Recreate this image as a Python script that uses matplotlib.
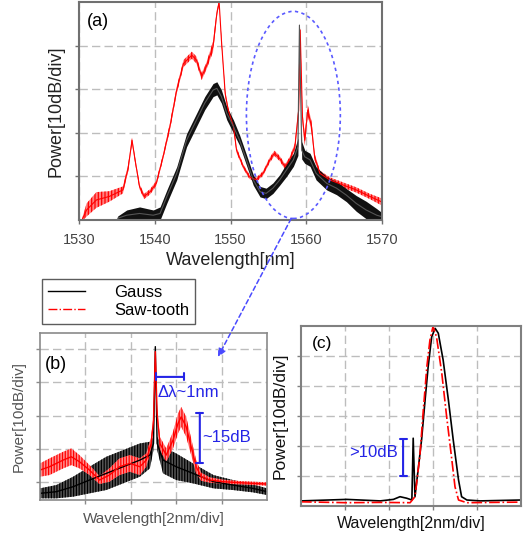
import numpy as np
import matplotlib
matplotlib.use("Agg")
import matplotlib.pyplot as plt
from matplotlib.patches import Ellipse, ConnectionPatch
from matplotlib.lines import Line2D

plt.rcParams['font.family'] = ['Liberation Sans', 'DejaVu Sans']
plt.rcParams['hatch.linewidth'] = 0.9

# ---------------- data ----------------
# panel (a): full spectrum
red_a_wl = [1530.4, 1531.0, 1532.3, 1534.0, 1535.8, 1536.5, 1537.0, 1537.4, 1538.0, 1538.6,
            1539.4, 1540.2, 1541.1, 1542.0, 1542.9, 1543.8, 1544.9, 1545.5, 1546.2, 1546.8,
            1547.7, 1548.2, 1548.5, 1548.8, 1549.3, 1549.7, 1550.4, 1550.8, 1551.7, 1552.5,
            1553.4, 1554.3, 1555.2, 1555.8, 1556.5, 1557.2, 1557.8, 1558.5, 1559.0, 1559.2,
            1559.5, 1559.8, 1560.2, 1560.7, 1561.1, 1561.8, 1563.1, 1564.9, 1566.6, 1568.4,
            1569.9]
red_a_db = [0.0, 2.3, 4.6, 5.4, 6.9, 12.0, 18.3, 13.8, 7.6, 5.4,
            6.5, 8.4, 14.5, 21.4, 29.8, 35.9, 37.8, 36.7, 32.9, 35.2,
            39.8, 47.4, 50.0, 41.3, 29.0, 25.2, 21.4, 16.0, 12.2, 9.9,
            9.2, 10.7, 13.8, 15.3, 14.1, 12.2, 13.8, 16.8, 25.2, 43.6,
            23.7, 18.3, 25.2, 21.4, 14.5, 10.7, 9.2, 8.0, 6.9, 5.4,
            4.2]
red_a_noise = [0.3, 1.5, 1.8, 1.2, 0.8, 0.8, 0.6, 0.6, 0.6, 0.6,
               0.6, 0.6, 0.6, 0.8, 0.8, 0.8, 0.8, 0.8, 0.8, 0.8,
               1.2, 0.8, 0.3, 0.6, 0.6, 0.6, 0.6, 0.6, 0.5, 0.5,
               0.5, 0.5, 0.6, 0.6, 0.6, 0.6, 0.6, 0.8, 1.2, 0.3,
               1.2, 1.2, 1.2, 1.2, 0.8, 0.6, 0.6, 0.6, 0.6, 0.6,
               0.8]
gauss_a_wl = [1535.1, 1536.3, 1538.0, 1539.8, 1540.7, 1541.6, 1542.9, 1544.2, 1545.5, 1546.6,
              1547.7, 1548.2, 1548.8, 1549.5, 1550.4, 1551.2, 1552.1, 1553.0, 1553.9, 1554.7,
              1555.6, 1556.5, 1557.4, 1558.3, 1558.9, 1559.1, 1559.4, 1559.8, 1560.5, 1561.3,
              1562.7, 1564.0, 1565.3, 1566.6, 1567.9, 1569.3, 1569.9]
gauss_a_db = [0.4, 1.1, 1.5, 1.1, 1.5, 5.4, 10.7, 18.3, 22.9, 26.8,
              29.8, 30.2, 28.3, 24.5, 21.4, 18.3, 13.8, 9.2, 6.5, 6.1,
              7.3, 9.2, 11.5, 13.8, 16.8, 44.7, 16.0, 14.5, 13.8, 10.7,
              8.4, 7.3, 5.7, 3.8, 2.3, 1.1, 0.8]
gauss_a_noise = [0.5, 1.2, 1.5, 1.2, 1.5, 1.5, 1.5, 1.5, 1.5, 1.5,
                 1.5, 1.5, 1.5, 1.5, 1.5, 1.2, 1.2, 1.2, 1.2, 1.2,
                 1.2, 1.2, 1.5, 1.5, 2.0, 0.5, 2.0, 1.5, 1.5, 1.5,
                 1.5, 1.5, 1.5, 1.8, 2.0, 1.5, 1.0]
a_xticks = [1530, 1540, 1550, 1560, 1570]

# panel (b): zoom around 1559 nm (x in divisions of 2 nm)
red_b_x = [0.0, 0.21, 0.51, 0.69, 0.87, 1.09, 1.31, 1.53, 1.75, 1.98,
           2.2, 2.34, 2.45, 2.5, 2.54, 2.58, 2.64, 2.78, 2.93, 3.04,
           3.11, 3.22, 3.33, 3.44, 3.55, 3.74, 4.03, 4.4, 5.0]
red_b_db = [13.6, 14.6, 16.6, 17.6, 16.1, 13.6, 10.6, 12.1, 14.6, 15.6,
            14.6, 16.6, 21.6, 28.6, 49.2, 30.7, 21.6, 18.1, 22.6, 27.6,
            29.6, 26.6, 20.6, 14.6, 11.6, 10.6, 10.1, 9.8, 9.4]
red_b_noise = [2.0, 2.5, 2.5, 2.5, 2.0, 1.5, 1.2, 2.0, 2.5, 2.5,
               2.5, 2.0, 2.0, 1.5, 0.3, 1.5, 2.0, 2.0, 2.5, 3.0,
               3.0, 3.0, 2.5, 2.0, 1.2, 0.8, 0.6, 0.5, 0.5]
gauss_b_x = [0.0, 0.36, 0.73, 1.09, 1.46, 1.83, 2.2, 2.42, 2.5, 2.54,
             2.58, 2.71, 3.0, 3.37, 3.82, 4.25, 4.69, 5.0]
gauss_b_db = [6.6, 7.1, 8.6, 10.6, 12.6, 14.6, 16.6, 18.1, 21.6, 50.7,
              21.6, 16.6, 14.6, 12.6, 10.1, 9.1, 8.1, 7.1]
gauss_b_noise = [1.5, 2.0, 3.0, 4.0, 5.0, 5.0, 5.0, 4.0, 2.0, 0.3,
                 2.0, 4.0, 4.0, 3.0, 2.0, 1.5, 1.2, 1.0]

# panel (c): filtered output
gauss_c_x = [0.0, 1.04, 1.8, 2.1, 2.25, 2.4, 2.52, 2.55, 2.59, 2.67,
             2.74, 2.82, 2.89, 2.97, 3.05, 3.12, 3.23, 3.35, 3.46, 3.58,
             3.65, 3.77, 4.07, 5.0]
gauss_c_db = [1.7, 2.2, 1.7, 2.2, 3.1, 2.6, 2.0, 22.6, 3.1, 13.1,
              22.0, 35.3, 46.4, 56.4, 59.2, 57.6, 48.7, 35.3, 22.0, 8.7,
              3.1, 2.0, 1.7, 2.0]
red_c_x = [0.0, 1.04, 1.8, 2.48, 2.59, 2.7, 2.78, 2.86, 2.93, 3.0,
           3.08, 3.2, 3.31, 3.42, 3.5, 3.58, 3.77, 5.0]
red_c_db = [1.4, 1.1, 1.2, 1.1, 3.1, 16.4, 32.0, 46.4, 55.3, 59.8,
            56.4, 44.2, 29.8, 16.4, 6.4, 2.0, 1.1, 1.3]

series_names = ["Gauss", "Saw-tooth"]

# ---------------- figure ----------------
W, H = 529, 536
fig = plt.figure(figsize=(W / 100, H / 100), dpi=100)

def px_axes(l, t, r, b):
    return fig.add_axes([l / W, 1 - b / H, (r - l) / W, (b - t) / H])

grid_kw = dict(color='#bdbdbd', linestyle=(0, (6, 3)), linewidth=1.0)

def style(ax, spine_color, lw):
    for s in ax.spines.values():
        s.set_color(spine_color)
        s.set_linewidth(lw)
    ax.grid(True, **grid_kw)
    ax.set_axisbelow(True)
    ax.tick_params(direction='out', length=3, color=spine_color, width=1)

# ---- (a)
axa = px_axes(79, 2, 382, 220)
style(axa, '#707070', 1.5)
r_wl = np.array(red_a_wl); r_db = np.array(red_a_db); r_n = np.array(red_a_noise)
g_wl = np.array(gauss_a_wl); g_db = np.array(gauss_a_db); g_n = np.array(gauss_a_noise)
axa.fill_between(r_wl, r_db - r_n, r_db + r_n, facecolor='#ff8080', edgecolor='#ff0000',
                 hatch='|||||', lw=0)
axa.plot(r_wl, r_db, color='#ff0000', lw=0.8)
axa.fill_between(g_wl, g_db - g_n, g_db + g_n, color='#111111', lw=0)
axa.plot(g_wl, g_db, color='#555555', lw=0.8)
axa.set_xlim(1530, 1570)
axa.set_ylim(0, 50)
axa.set_xticks(a_xticks)
axa.set_yticks([10, 20, 30, 40])
axa.set_yticklabels([])
axa.tick_params(axis='x', labelsize=10.5, labelcolor='#444444', pad=6)
axa.set_xlabel("Wavelength[nm]", fontsize=13, color='#222222', labelpad=4)
axa.set_ylabel("Power[10dB/div]", fontsize=13, color='#222222', labelpad=4)
axa.text(0.025, 0.91, "(a)", transform=axa.transAxes, fontsize=13, va='center', ha='left')
ell = Ellipse((1558.3, 24.1), width=12.4, height=47.5, fill=False,
              edgecolor='#5a5aff', lw=1.2, ls=(0, (2, 2)), clip_on=False, zorder=5)
axa.add_patch(ell)

# ---- (b)
axb = px_axes(40, 333, 267, 500)
style(axb, '#8a8a8a', 1.2)
rb_x = np.array(red_b_x); rb_db = np.array(red_b_db); rb_n = np.array(red_b_noise)
gb_x = np.array(gauss_b_x); gb_db = np.array(gauss_b_db); gb_n = np.array(gauss_b_noise)
axb.fill_between(gb_x, gb_db - gb_n, gb_db + gb_n, facecolor='#555555', edgecolor='#000000',
                 hatch='||||||', lw=0)
axb.plot(gb_x, gb_db, color='#000000', lw=1.0)
axb.fill_between(rb_x, rb_db - rb_n, rb_db + rb_n, facecolor='#ff9090', edgecolor='#ff0000',
                 hatch='||||||', lw=0)
axb.plot(rb_x, rb_db, color='#ff0000', lw=1.0)
axb.set_xlim(0, 5)
axb.set_ylim(4.6, 54.8)
axb.set_xticks([1, 2, 3, 4])
axb.set_yticks([10, 20, 30, 40, 50])
axb.set_xticklabels([]); axb.set_yticklabels([])
axb.set_xlabel("Wavelength[2nm/div]", fontsize=11, color='#555555', labelpad=2)
axb.set_ylabel("Power[10dB/div]", fontsize=11, color='#555555', labelpad=4)
axb.text(0.02, 0.81, "(b)", transform=axb.transAxes, fontsize=13, va='center', ha='left')
blue = '#2424e6'
axb.annotate("", xy=(2.55, 41.6), xytext=(3.17, 41.6),
             arrowprops=dict(arrowstyle='|-|,widthA=0.25,widthB=0.25', color=blue, lw=1.5,
                             shrinkA=0, shrinkB=0))
axb.text(2.58, 36.8, "Δλ~1nm", color=blue, fontsize=12, va='center', ha='left')
axb.annotate("", xy=(3.52, 30.8), xytext=(3.52, 15.7),
             arrowprops=dict(arrowstyle='|-|,widthA=0.25,widthB=0.25', color=blue, lw=1.5,
                             shrinkA=0, shrinkB=0))
axb.text(3.58, 23.5, "~15dB", color=blue, fontsize=12, va='center', ha='left')

# legend
handles = [Line2D([], [], color='black', lw=1.0),
           Line2D([], [], color='red', lw=1.0, ls='-.')]
leg = fig.legend(handles, series_names, loc='upper left',
                 bbox_to_anchor=(42 / W, 1 - 279 / H), frameon=True, fancybox=False,
                 fontsize=12, handlelength=2.2, handletextpad=1.8, borderpad=0.35,
                 labelspacing=0.2, borderaxespad=0)
leg.get_frame().set_edgecolor('#333333')
leg.get_frame().set_linewidth(1.0)

# ---- (c)
axc = px_axes(301, 326, 521, 506)
style(axc, '#808080', 1.5)
axc.plot(gauss_c_x, gauss_c_db, color='#000000', lw=1.2)
axc.plot(red_c_x, red_c_db, color='#ff0000', lw=1.2, ls='-.')
axc.set_xlim(0, 5)
axc.set_ylim(0, 60)
axc.set_xticks([1, 2, 3, 4])
axc.set_yticks([10, 20, 30, 40, 50])
axc.set_xticklabels([]); axc.set_yticklabels([])
axc.set_xlabel("Wavelength[2nm/div]", fontsize=11.5, color='#111111', labelpad=1)
axc.set_ylabel("Power[10dB/div]", fontsize=12.5, color='#111111', labelpad=3)
axc.text(0.05, 0.905, "(c)", transform=axc.transAxes, fontsize=12.5, va='center', ha='left')
axc.annotate("", xy=(2.32, 22.3), xytext=(2.32, 10.0),
             arrowprops=dict(arrowstyle='|-|,widthA=0.25,widthB=0.25', color=blue, lw=1.5,
                             shrinkA=0, shrinkB=0))
axc.text(2.2, 17.7, ">10dB", color=blue, fontsize=12, va='center', ha='right')

# connecting arrow from the ellipse in (a) to (b)
con = ConnectionPatch(xyA=(1558.0, 0.3), coordsA=axa.transData,
                      xyB=(3.92, 47.6), coordsB=axb.transData,
                      arrowstyle='-|>', mutation_scale=12, color='#4a4aff',
                      lw=1.1, ls=(0, (3, 2)))
fig.add_artist(con)

fig.savefig("out.png", dpi=100)
